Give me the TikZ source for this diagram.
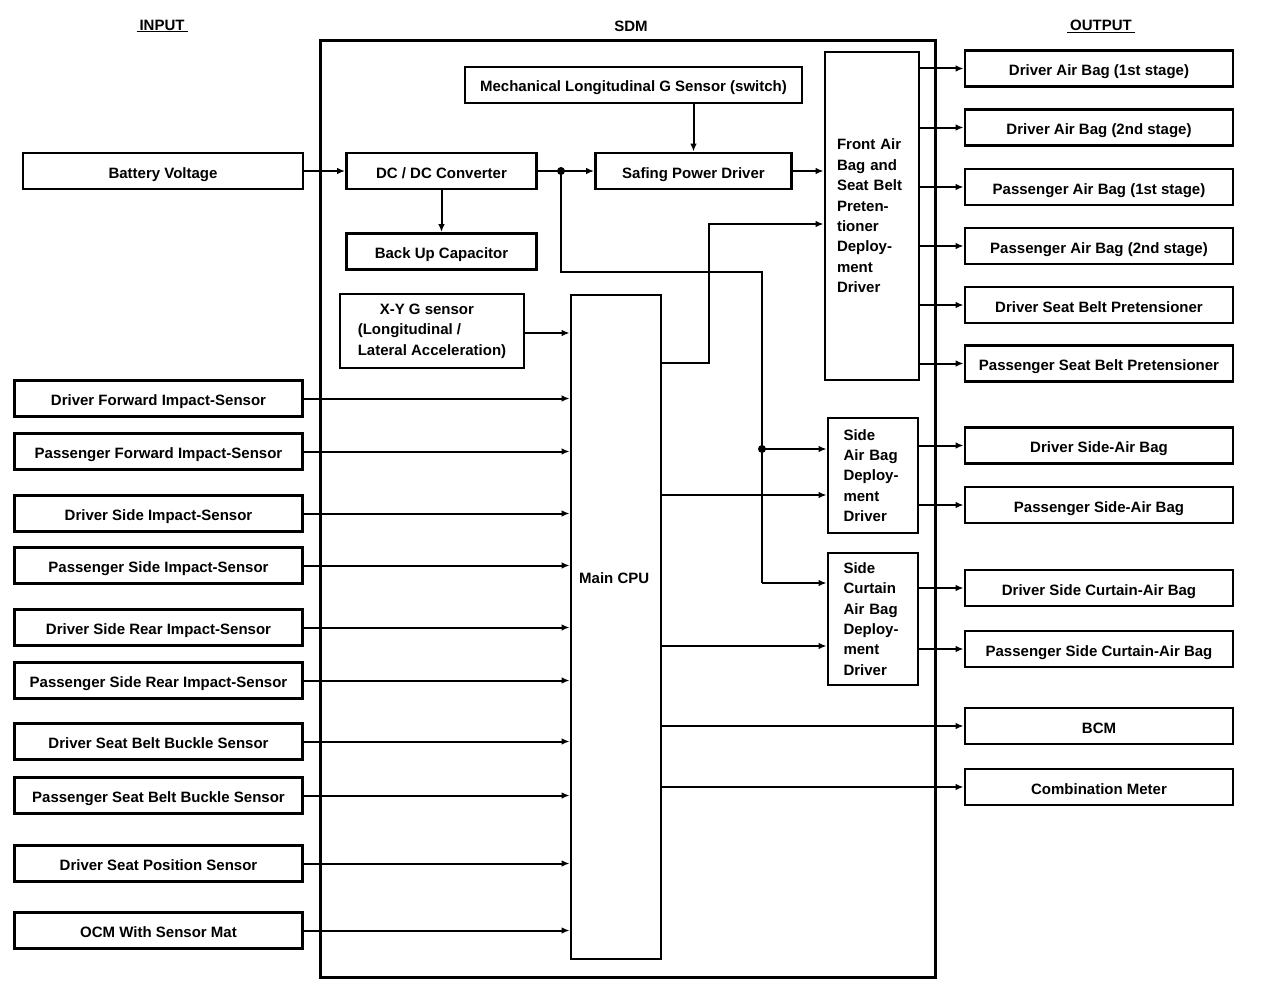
\documentclass[tikz,border=0pt]{standalone}
\usepackage{fontspec}
\newfontfamily\diafont{Liberation Sans Bold}
\usetikzlibrary{arrows.meta,calc}
\tikzset{
  txt/.style={font=\diafont\fontsize{15}{20.4}\selectfont},
  box/.style={draw, line width=2.8pt, inner sep=0pt, txt},
  one/.style={box, text height=14pt, text depth=0pt},
  inbox/.style={one, minimum width=288pt, minimum height=36pt},
  outbox/.style={one, minimum width=268pt, minimum height=36pt},
  wire/.style={line width=2pt},
  conn/.style={line width=2pt, -{Latex[length=8pt,width=6.5pt]}},
  lbl/.style={txt, inner sep=0pt},
}
\begin{document}
\begin{tikzpicture}[x=1pt,y=-1pt]
\useasboundingbox (0,0) rectangle (1264,990);
% titles
\node[lbl] (tin) at (162,26) {\underline{\hspace{3pt}INPUT\hspace{3pt}}};
\node[lbl] (tsdm) at (631,26) {SDM};
\node[lbl] (tout) at (1101,26) {\underline{\hspace{3pt}OUTPUT\hspace{3pt}}};
% SDM frame
\node[draw, line width=3pt, minimum width=615pt, minimum height=936pt, inner sep=0pt] (sdm) at (627.5,509) {};
% inputs
\node[one, minimum width=280pt, minimum height=36pt] (inbat) at (163,171) {Battery Voltage};
\node[inbox] (in1) at (158.5,398.5) {Driver Forward Impact-Sensor};
\node[inbox] (in2) at (158.5,451.5) {Passenger Forward Impact-Sensor};
\node[inbox] (in3) at (158.5,513.5) {Driver Side Impact-Sensor};
\node[inbox] (in4) at (158.5,565.5) {Passenger Side Impact-Sensor};
\node[inbox] (in5) at (158.5,627.5) {Driver Side Rear Impact-Sensor};
\node[inbox] (in6) at (158.5,680.5) {Passenger Side Rear Impact-Sensor};
\node[inbox] (in7) at (158.5,741.5) {Driver Seat Belt Buckle Sensor};
\node[inbox] (in8) at (158.5,795.5) {Passenger Seat Belt Buckle Sensor};
\node[inbox] (in9) at (158.5,863.5) {Driver Seat Position Sensor};
\node[inbox] (in10) at (158.5,930.5) {OCM With Sensor Mat};
% inner blocks
\node[one, minimum width=337pt, minimum height=36pt] (mech) at (633.5,85) {Mechanical Longitudinal G Sensor (switch)};
\node[one, minimum width=190pt, minimum height=36pt] (dcdc) at (441.5,171) {DC / DC Converter};
\node[one, minimum width=196pt, minimum height=36pt] (saf) at (693.5,171) {Safing Power Driver};
\node[one, minimum width=190pt, minimum height=36pt] (buc) at (441.5,251.5) {Back Up Capacitor};
\node[box, minimum width=184pt, minimum height=74pt, align=left] (xyg) at (432,331) {\hspace*{22pt}X-Y G sensor\\(Longitudinal /\\Lateral Acceleration)};
\node[box, minimum width=90pt, minimum height=664pt] (cpu) at (616,627) {};
\node[lbl, anchor=west] (cpulbl) at (579,578) {Main CPU};
\node[box, minimum width=94pt, minimum height=328pt, align=left, text width=70pt] (fd) at (872,216) {Front Air\\Bag and\\Seat Belt\\Preten-\\tioner\\Deploy-\\ment\\Driver};
\node[box, minimum width=90pt, minimum height=115pt, align=left, text width=59pt] (sab) at (873,475.5) {Side\\Air Bag\\Deploy-\\ment\\Driver};
\node[box, minimum width=90pt, minimum height=132pt, align=left, text width=59pt] (scb) at (873,619) {Side\\Curtain\\Air Bag\\Deploy-\\ment\\Driver};
% outputs
\node[outbox] (o1) at (1099,68.5) {Driver Air Bag (1st stage)};
\node[outbox] (o2) at (1099,127.5) {Driver Air Bag (2nd stage)};
\node[outbox] (o3) at (1099,187) {Passenger Air Bag (1st stage)};
\node[outbox] (o4) at (1099,246) {Passenger Air Bag (2nd stage)};
\node[outbox] (o5) at (1099,305) {Driver Seat Belt Pretensioner};
\node[outbox] (o6) at (1099,363.5) {Passenger Seat Belt Pretensioner};
\node[outbox] (o7) at (1099,445.5) {Driver Side-Air Bag};
\node[outbox] (o8) at (1099,505) {Passenger Side-Air Bag};
\node[outbox] (o9) at (1099,588) {Driver Side Curtain-Air Bag};
\node[outbox] (o10) at (1099,649) {Passenger Side Curtain-Air Bag};
\node[outbox] (o11) at (1099,726) {BCM};
\node[outbox] (o12) at (1099,787) {Combination Meter};
% connectors: power path
\draw[conn] (inbat.east) -- (dcdc.west);
\draw[conn] (dcdc.east) -- (saf.west);
\draw[conn] (dcdc.south) -- (buc.north);
\draw[conn] (saf.north |- mech.south) -- (saf.north);
\draw[conn] (saf.east) -- (saf.east -| fd.west);
\coordinate (jn) at (561,171);
\coordinate (c1) at (561,272);
\coordinate (c2) at (762,272);
\coordinate (jn2) at (762,449);
\coordinate (c3) at (762,583);
\draw[wire] (jn) -- (c1) -- (c2) -- (c3);
\draw[conn] (c3) -- (c3 -| scb.west);
\draw[conn] (jn2) -- (jn2 -| sab.west);
\fill (jn) circle (4);
\fill (jn2) circle (4);
% CPU to front driver
\coordinate (d1) at (661,363);
\coordinate (d2) at (709,363);
\coordinate (d3) at (709,224);
\draw[conn] (d1) -- (d2) -- (d3) -- (d3 -| fd.west);
% X-Y G to CPU
\coordinate (xy) at (524,333);
\draw[conn] (xy) -- (xy -| cpu.west);
% inputs to CPU
\foreach \n in {in1,in2,in3,in4,in5,in6,in7,in8,in9,in10}
  \draw[conn] (\n.east) -- (\n.east -| cpu.west);
% CPU to side drivers
\coordinate (s1) at (661,495);
\coordinate (s2) at (661,646);
\draw[conn] (s1) -- (s1 -| sab.west);
\draw[conn] (s2) -- (s2 -| scb.west);
% CPU to BCM, meter
\draw[conn] (o11.west -| cpu.east) -- (o11.west);
\draw[conn] (o12.west -| cpu.east) -- (o12.west);
% front driver outputs
\foreach \n in {o1,o2,o3,o4,o5,o6}
  \draw[conn] (\n.west -| fd.east) -- (\n.west);
\draw[conn] (o7.west -| sab.east) -- (o7.west);
\draw[conn] (o8.west -| sab.east) -- (o8.west);
\draw[conn] (o9.west -| scb.east) -- (o9.west);
\draw[conn] (o10.west -| scb.east) -- (o10.west);
\end{tikzpicture}
\end{document}
